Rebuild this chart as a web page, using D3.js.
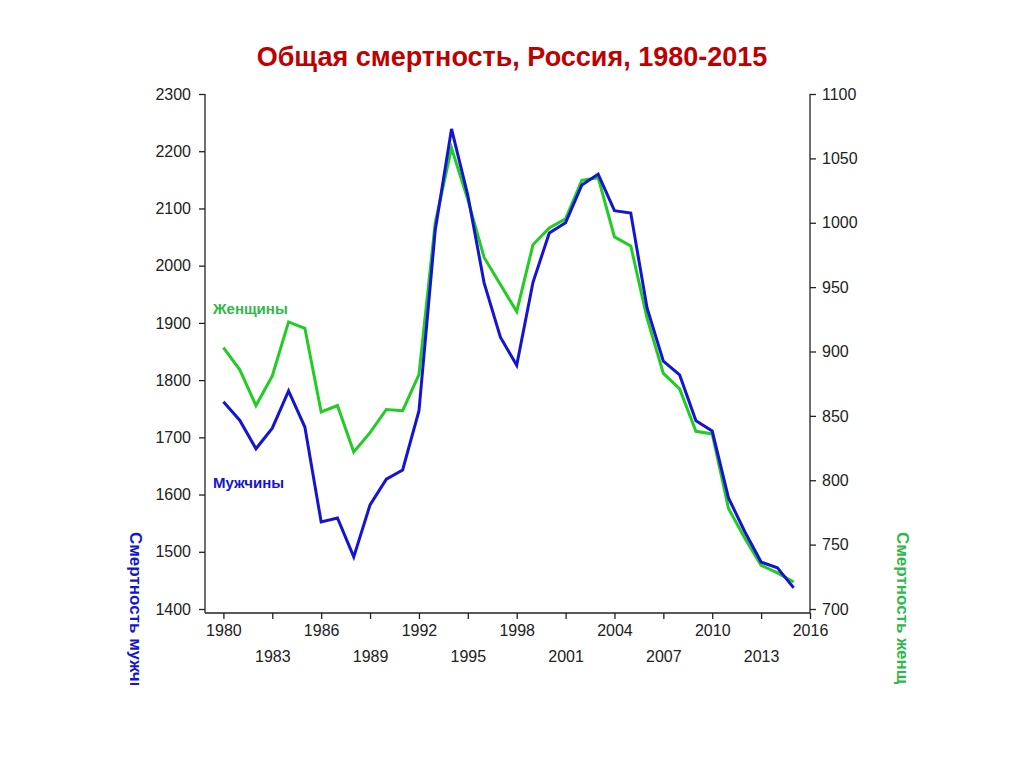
<!DOCTYPE html>
<html><head><meta charset="utf-8">
<script src="https://cdn.jsdelivr.net/npm/d3@7"></script>
<style>body{margin:0;background:#fff}svg{font-family:Arial,"Liberation Sans",sans-serif}</style>
</head><body><div id="chart"></div>
<script>
const width = 1024, height = 767;

const years = d3.range(1980, 2016);
const men = [1762,1730,1680,1716,1781,1718,1552,1559,1491,1582,1627,1643,1746,2062,2239,2123,1970,1875,1826,1971,2057,2075,2141,2160,2096,2092,1926,1833,1809,1729,1711,1594,1535,1482,1472,1437];
const women = [903,886,858,881,923,918,853,858,822,837,855,854,882,1000,1058,1018,973,952,931,983,996,1003,1033,1035,989,982,926,883,871,838,836,778,755,734,728,721];
const xTicks = d3.range(1980, 2017, 3);
const leftTicks = d3.range(1400, 2301, 100);
const rightTicks = d3.range(700, 1101, 50);

const svg = d3.select('#chart').append('svg').attr('width', width).attr('height', height);

const x = d3.scaleLinear().domain([1980, 2016]).range([223.4, 810]);
const yL = d3.scaleLinear().domain([1400, 2300]).range([609, 94]);
const yR = d3.scaleLinear().domain([700, 1100]).range([609, 94]);

// Заголовок
svg.append('text').attr('x', 512).attr('y', 66).attr('text-anchor', 'middle')
  .attr('font-size', 27).attr('font-weight', 'bold').attr('fill', '#c00000')
  .text('Общая смертность, Россия, 1980-2015');

// Оси
const axL = svg.append('g').attr('transform', 'translate(205,0)')
  .call(d3.axisLeft(yL).tickValues(leftTicks).tickSize(6).tickPadding(8).tickFormat(d3.format('d')));
const axR = svg.append('g').attr('transform', 'translate(810,0)')
  .call(d3.axisRight(yR).tickValues(rightTicks).tickSize(6).tickPadding(6).tickFormat(d3.format('d')));
const axB = svg.append('g').attr('transform', 'translate(0,613)')
  .call(d3.axisBottom(x).tickValues(xTicks).tickSize(6).tickFormat(d3.format('d')));
axB.select('.domain').attr('d', 'M205,0H810');
axB.selectAll('.tick text').attr('dy', (d, i) => i % 2 ? '2.5em' : '0.9em');
axL.select('.domain').attr('d', 'M0,94V613');
axR.select('.domain').attr('d', 'M0,94V613');
[axL, axR, axB].forEach(a => {
  a.selectAll('text').attr('font-size', 16).attr('fill', '#222').attr('font-family', 'Arial, Liberation Sans, sans-serif');
  a.selectAll('line, path').attr('stroke', '#222').attr('stroke-width', 1.3);
});

// Линии
svg.append('path').datum(women)
  .attr('fill', 'none').attr('stroke', '#22cc22').attr('stroke-width', 3)
  .attr('d', d3.line().x((d, i) => x(years[i])).y(d => yR(d)));
svg.append('path').datum(men)
  .attr('fill', 'none').attr('stroke', '#1414d4').attr('stroke-width', 3)
  .attr('d', d3.line().x((d, i) => x(years[i])).y(d => yL(d)));

svg.append('text').attr('x', 213).attr('y', 314).attr('font-size', 15).attr('font-weight', 'bold')
  .attr('fill', '#2eb84a').text('Женщины');
svg.append('text').attr('x', 213).attr('y', 488).attr('font-size', 15).attr('font-weight', 'bold')
  .attr('fill', '#1414d4').text('Мужчины');

// Подписи осей (обрезаны)
const defs = svg.append('defs');
defs.append('clipPath').attr('id', 'clipT').append('rect').attr('x', 0).attr('y', 520).attr('width', width).attr('height', 165);
const g = svg.append('g').attr('clip-path', 'url(#clipT)');
g.append('text')
  .attr('transform', 'translate(130,532) rotate(90)')
  .attr('font-size', 17).attr('font-weight', 'bold').attr('fill', '#1414d4')
  .text('Смертность мужчин');
g.append('text')
  .attr('transform', 'translate(897,532) rotate(90)')
  .attr('font-size', 17).attr('font-weight', 'bold').attr('fill', '#2eb84a')
  .text('Смертность женщин');
</script></body></html>
